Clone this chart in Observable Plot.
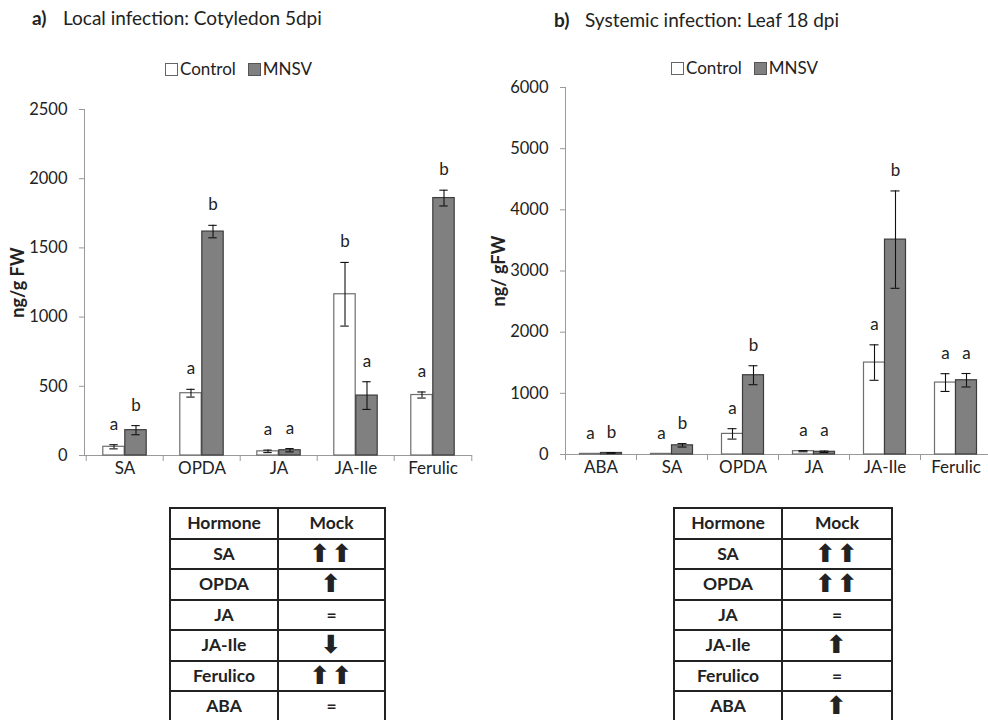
<!DOCTYPE html>
<html><head><meta charset="utf-8">
<script src="https://cdn.jsdelivr.net/npm/d3@7"></script>
<script src="https://cdn.jsdelivr.net/npm/@observablehq/plot@0.6"></script>
<style>
html,body{margin:0;padding:0;background:#fff;overflow:hidden;width:988px;height:720px;}
body{position:relative;font-family:Lato,sans-serif;color:#222;}
.abs{position:absolute;white-space:nowrap;}
.title{font-size:19px;line-height:22px;}
.title b{display:inline-block;width:31px;}
.legend{font-size:17px;line-height:20px;display:flex;align-items:center;}
.sw{display:inline-block;width:11px;height:11px;border:1px solid #666;margin-right:2px;}
table{border-collapse:collapse;font-weight:bold;font-size:17.5px;}
td{border:2px solid #222;text-align:center;height:28.5px;padding:0;line-height:26px;}
td.arr{font-family:"DejaVu Sans",sans-serif;font-size:25px;letter-spacing:1px;line-height:26px;}
</style></head><body>
<div id="root"></div>
<script>
// ---------- data ----------
const catsA = ["SA", "OPDA", "JA", "JA-Ile", "Ferulic"];
const controlA = [63, 450, 30, 1165, 437];
const controlErrA = [15, 28, 9, 230, 22];
const mnsvA = [183, 1618, 38, 433, 1860];
const mnsvErrA = [33, 45, 12, 100, 57];
const lettersCtrlA = ["a", "a", "a", "b", "a"];
const lettersMnsvA = ["b", "b", "a", "a", "b"];
const yTicksA = [0, 500, 1000, 1500, 2000, 2500];

const catsB = ["ABA", "SA", "OPDA", "JA", "JA-Ile", "Ferulic"];
const controlB = [10, 10, 337, 54, 1503, 1176];
const controlErrB = [0, 0, 85, 10, 290, 145];
const mnsvB = [25, 150, 1296, 44, 3513, 1214];
const mnsvErrB = [6, 28, 155, 12, 796, 110];
const lettersCtrlB = ["a", "a", "a", "a", "a", "a"];
const lettersMnsvB = ["b", "b", "b", "a", "b", "a"];
const yTicksB = [0, 1000, 2000, 3000, 4000, 5000, 6000];

const tableHormones = ["SA", "OPDA", "JA", "JA-Ile", "Ferulico", "ABA"];
const mockA = ["⬆⬆", "⬆", "=", "⬇", "⬆⬆", "="];
const mockB = ["⬆⬆", "⬆⬆", "=", "⬆", "=", "⬆"];

const titleA = ["a)", "Local infection: Cotyledon 5dpi"];
const titleB = ["b)", "Systemic infection: Leaf 18 dpi"];
const seriesNames = ["Control", "MNSV"];
const yLabelA = "ng/g FW";
const yLabelB = "ng/ gFW";

// ---------- styles ----------
const ctrlFill = "#ffffff", ctrlStroke = "#6e6e6e";
const mnsvFill = "#808080", mnsvStroke = "#3c3c3c";
const axisGray = "#9a9a9a";

function panel(o) {
  const rows = o.cats.map((c, i) => ({
    cat: c, ctrl: o.ctrl[i], ce: o.ctrlErr[i], mnsv: o.mnsv[i], me: o.mnsvErr[i],
    lc: o.lc[i], lm: o.lm[i]
  }));
  const bw = (o.width - o.marginLeft - o.marginRight) / o.cats.length;
  const barW = o.barW, capW = 9, half = barW / 2;
  const capInset = (bw - capW) / 2;
  const last = o.cats[o.cats.length - 1];
  return Plot.plot({
    width: o.width, height: o.height,
    marginLeft: o.marginLeft, marginRight: o.marginRight,
    marginTop: o.marginTop, marginBottom: o.marginBottom,
    style: {fontFamily: "Lato, sans-serif", fontSize: "16px", color: "#222", background: "transparent", overflow: "visible"},
    x: {domain: o.cats, padding: 0, label: null},
    y: {domain: [0, o.ymax], label: null},
    marks: [
      Plot.axisY({ticks: o.yTicks, tickSize: 5, tickPadding: 12, stroke: axisGray, fontSize: 16.5, label: null, tickFormat: d => String(d)}),
      Plot.axisX({tickSize: 0, tickPadding: 6, fontSize: 17, label: null}),
      Plot.frame({anchor: "left", stroke: axisGray}),
      Plot.ruleY([0], {stroke: axisGray}),
      Plot.ruleX(o.cats, {x: d => d, y1: 0, y2: 0, dx: -bw / 2, insetBottom: -6, stroke: axisGray}),
      Plot.ruleX([last], {x: d => d, y1: 0, y2: 0, dx: bw / 2, insetBottom: -6, stroke: axisGray}),
      Plot.barY(rows, {x: "cat", y: "ctrl", insetLeft: bw / 2 - barW, insetRight: bw / 2, fill: ctrlFill, stroke: ctrlStroke, strokeWidth: 1.2}),
      Plot.barY(rows, {x: "cat", y: "mnsv", insetLeft: bw / 2, insetRight: bw / 2 - barW, fill: mnsvFill, stroke: mnsvStroke, strokeWidth: 1.2}),
      Plot.ruleX(rows.filter(d => d.ce > 0), {x: "cat", y1: d => d.ctrl - d.ce, y2: d => d.ctrl + d.ce, dx: -half, stroke: "#111", strokeWidth: 1.1}),
      Plot.ruleX(rows.filter(d => d.me > 0), {x: "cat", y1: d => d.mnsv - d.me, y2: d => d.mnsv + d.me, dx: half, stroke: "#111", strokeWidth: 1.1}),
      Plot.tickY(rows.filter(d => d.ce > 0), {x: "cat", y: d => d.ctrl + d.ce, dx: -half, insetLeft: capInset, insetRight: capInset, stroke: "#111", strokeWidth: 1.1}),
      Plot.tickY(rows.filter(d => d.ce > 0), {x: "cat", y: d => d.ctrl - d.ce, dx: -half, insetLeft: capInset, insetRight: capInset, stroke: "#111", strokeWidth: 1.1}),
      Plot.tickY(rows.filter(d => d.me > 0), {x: "cat", y: d => d.mnsv + d.me, dx: half, insetLeft: capInset, insetRight: capInset, stroke: "#111", strokeWidth: 1.1}),
      Plot.tickY(rows.filter(d => d.me > 0), {x: "cat", y: d => d.mnsv - d.me, dx: half, insetLeft: capInset, insetRight: capInset, stroke: "#111", strokeWidth: 1.1}),
      Plot.text(rows, {x: "cat", y: d => d.ctrl + d.ce, text: "lc", dx: -half, dy: -15, lineAnchor: "bottom", fontSize: 17, fill: "#222"}),
      Plot.text(rows, {x: "cat", y: d => d.mnsv + d.me, text: "lm", dx: half, dy: -15, lineAnchor: "bottom", fontSize: 17, fill: "#222"}),
      Plot.text([o.ylabel], {frameAnchor: "left", textAnchor: "middle", lineAnchor: "middle", rotate: -90, dx: -(o.marginLeft - o.ylabelX), fontWeight: "bold", fontSize: 18, fill: "#222"})
    ]
  });
}

const root = document.getElementById("root");
function place(el, left, top) {
  el.style.position = "absolute"; el.style.left = left + "px"; el.style.top = top + "px";
  root.appendChild(el);
}

// Panel a
const pa = panel({cats: catsA, ctrl: controlA, ctrlErr: controlErrA, mnsv: mnsvA, mnsvErr: mnsvErrA,
  lc: lettersCtrlA, lm: lettersMnsvA, ymax: 2500, yTicks: yTicksA,
  width: 494, height: 400, marginLeft: 84, marginRight: 22, marginTop: 19, marginBottom: 35,
  barW: 22, ylabel: yLabelA, ylabelX: 18});
place(pa, 0, 90);

// Panel b
const pb = panel({cats: catsB, ctrl: controlB, ctrlErr: controlErrB, mnsv: mnsvB, mnsvErr: mnsvErrB,
  lc: lettersCtrlB, lm: lettersMnsvB, ymax: 6000, yTicks: yTicksB,
  width: 500, height: 420, marginLeft: 71, marginRight: 3, marginTop: 17, marginBottom: 36,
  barW: 21, ylabel: yLabelB, ylabelX: 5});
place(pb, 494, 70);

// titles
function title(t, left, top) {
  const d = document.createElement("div");
  d.className = "abs title";
  const b = document.createElement("b"); b.textContent = t[0];
  d.appendChild(b); d.appendChild(document.createTextNode(t[1]));
  place(d, left, top);
}
title(titleA, 32, 7);
title(titleB, 554, 9);

// legends
function legend(left, top) {
  const d = document.createElement("div");
  d.className = "abs legend";
  const fills = [[ctrlFill, "#666"], [mnsvFill, "#555"]];
  seriesNames.forEach((n, i) => {
    const s = document.createElement("span"); s.className = "sw";
    s.style.background = fills[i][0]; s.style.borderColor = fills[i][1];
    if (i > 0) s.style.marginLeft = "12px";
    d.appendChild(s);
    d.appendChild(document.createTextNode(n));
  });
  place(d, left, top);
}
legend(165, 59);
legend(671, 58);

// tables
function table(left, w1, w2, mock) {
  const t = document.createElement("table");
  const hr = t.insertRow();
  ["Hormone", "Mock"].forEach((h, i) => { const c = hr.insertCell(); c.textContent = h; c.style.width = (i ? w2 : w1) + "px"; });
  tableHormones.forEach((h, i) => {
    const r = t.insertRow();
    const c1 = r.insertCell(); c1.textContent = h;
    const c2 = r.insertCell(); c2.textContent = mock[i];
    if (mock[i] !== "=") c2.className = "arr";
  });
  place(t, left, 507);
}
table(169, 106, 105, mockA);
table(673, 106, 108, mockB);
</script>
</body></html>
